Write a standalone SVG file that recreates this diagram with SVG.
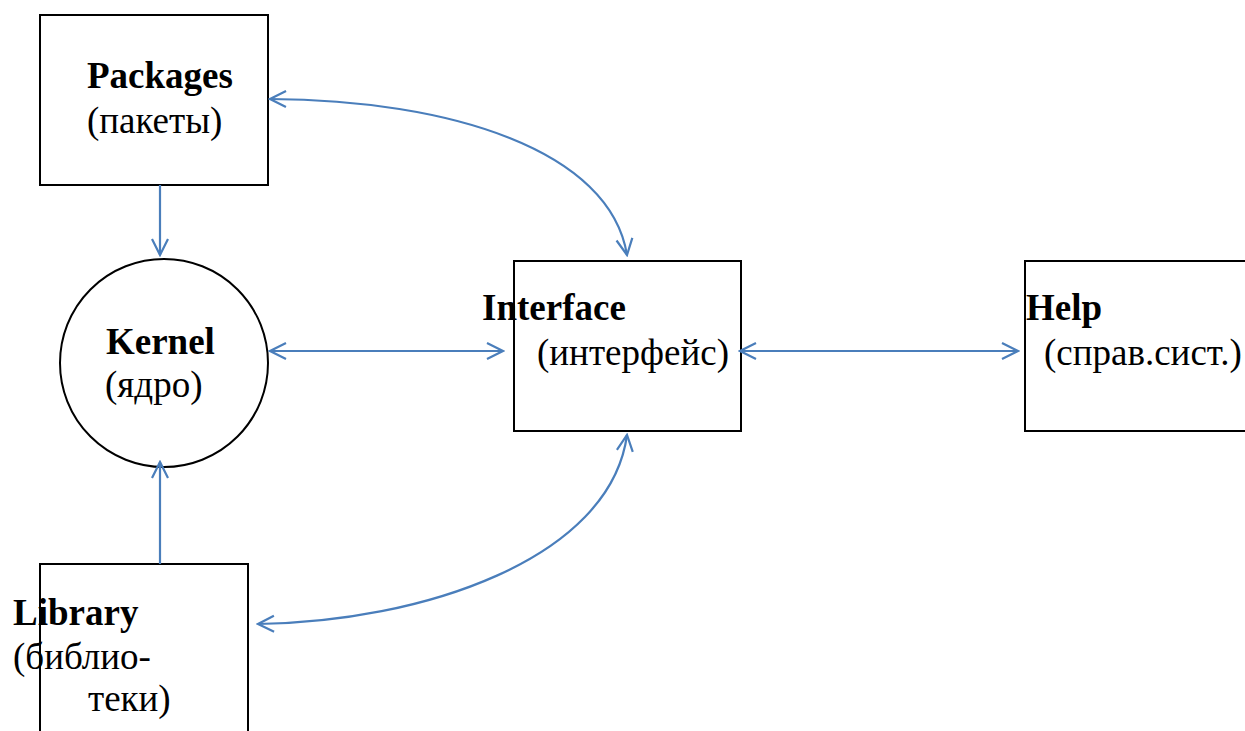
<svg xmlns="http://www.w3.org/2000/svg" width="1245" height="731" viewBox="0 0 1245 731">
<style>
.box{fill:#fff;stroke:#000;stroke-width:2}
.b{font-family:"Liberation Serif",serif;font-weight:bold;font-size:37px;fill:#000}
.r{font-family:"Liberation Serif",serif;font-size:37px;fill:#000}
.c{fill:none;stroke:#4A7EBB;stroke-width:2.2}
</style>
<defs>
<marker id="ah" viewBox="0 0 20 20" refX="18" refY="10" markerWidth="20" markerHeight="20" markerUnits="userSpaceOnUse" orient="auto-start-reverse">
<path d="M2,2 L18,10 L2,18" fill="none" stroke="#4A7EBB" stroke-width="2.2"/>
</marker>
</defs>
<rect width="1245" height="731" fill="#fff"/>
<g id="packages">
<rect class="box" x="40" y="15" width="228" height="170"/>
<text class="b" x="87" y="88">Packages</text>
<text class="r" x="87" y="133">(пакеты)</text>
</g>
<g id="kernel">
<circle class="box" cx="164" cy="363" r="104"/>
<text class="b" x="106" y="354">Kernel</text>
<text class="r" x="105" y="397">(ядро)</text>
</g>
<g id="interface">
<rect class="box" x="514" y="261" width="227" height="170"/>
<text class="b" x="482" y="320">Interface</text>
<text class="r" x="537" y="365">(интерфейс)</text>
</g>
<g id="help">
<rect class="box" x="1025" y="261" width="240" height="170"/>
<text class="b" x="1026" y="320">Help</text>
<text class="r" x="1044" y="365">(справ.сист.)</text>
</g>
<g id="library">
<rect class="box" x="40" y="564" width="208" height="190"/>
<text class="b" x="13" y="625">Library</text>
<text class="r" x="13" y="669">(библио-</text>
<text class="r" x="88" y="711">теки)</text>
</g>
<g id="connectors">
<path class="c" d="M160,185 L160,255" marker-end="url(#ah)"/>
<path class="c" d="M270,351 L503,351" marker-start="url(#ah)" marker-end="url(#ah)"/>
<path class="c" d="M740,351 L1018,351" marker-start="url(#ah)" marker-end="url(#ah)"/>
<path class="c" d="M160,564 L160,462" marker-end="url(#ah)"/>
<path class="c" d="M270,99 C450,100 610,150 627,255" marker-start="url(#ah)" marker-end="url(#ah)"/>
<path class="c" d="M627,435 C610,560 420,622 258,624" marker-start="url(#ah)" marker-end="url(#ah)"/>
</g>
</svg>
